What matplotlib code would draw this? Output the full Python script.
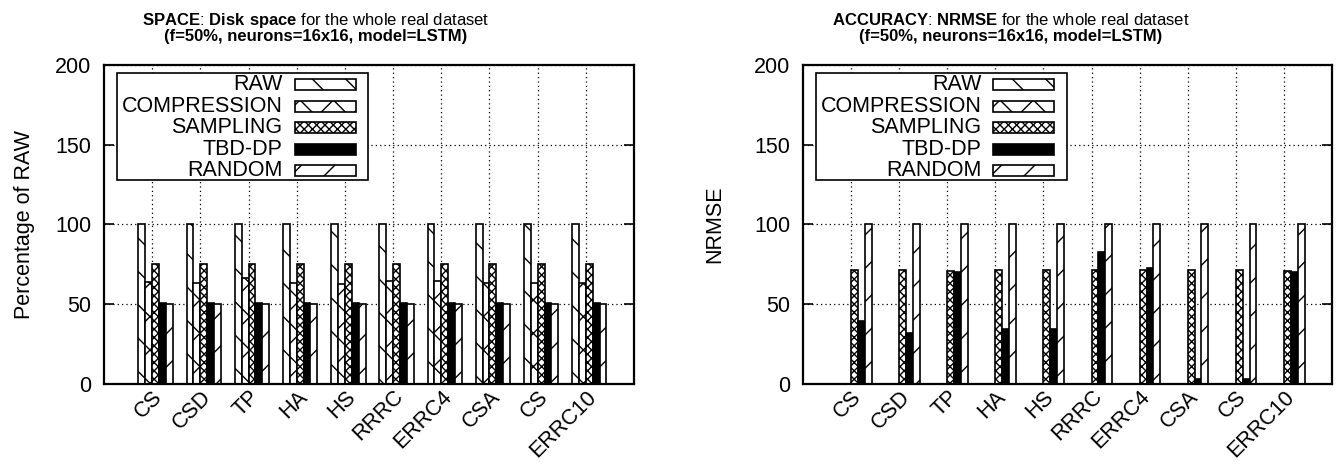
import numpy as np
import matplotlib
matplotlib.use('Agg')
from matplotlib import pyplot as plt
from matplotlib.patches import Rectangle
import matplotlib.transforms as mtransforms

plt.rcParams['font.family'] = ['Liberation Sans', 'DejaVu Sans']
plt.rcParams['hatch.linewidth'] = 1.0
plt.rcParams['mathtext.fontset'] = 'custom'
plt.rcParams['mathtext.rm'] = 'Liberation Sans'
plt.rcParams['mathtext.bf'] = 'Liberation Sans:bold'

categories = ['CS', 'CSD', 'TP', 'HA', 'HS', 'RRRC', 'ERRC4', 'CSA', 'CS', 'ERRC10']
methods = ['RAW', 'COMPRESSION', 'SAMPLING', 'TBD-DP', 'RANDOM']
hatches = ['\\', 'x', 'xxxx', None, '/']

# SPACE: percentage of RAW
space_raw = [100, 100, 100, 100, 100, 100, 100, 100, 100, 100]
space_compression = [63.6, 63.0, 66.1, 63.0, 62.6, 64.1, 64.1, 63.0, 63.2, 63.2]
space_sampling = [75, 75, 75, 75, 75, 75, 75, 75, 75, 75]
space_tbd = [50.8, 50.8, 50.8, 50.8, 50.8, 50.8, 50.8, 50.8, 50.8, 50.8]
space_random = [50, 50, 50, 50, 50, 50, 50, 50, 50, 50]

# ACCURACY: NRMSE
nrmse_raw = [0, 0, 0, 0, 0, 0, 0, 0, 0, 0]
nrmse_compression = [0, 0, 0, 0, 0, 0, 0, 0, 0, 0]
nrmse_sampling = [71, 71, 70.5, 71, 71, 71, 71, 71, 71, 70.6]
nrmse_tbd = [39, 32, 70, 34.3, 34, 82.3, 72.5, 3, 3, 70.2]
nrmse_random = [100, 100, 100, 100, 100, 100, 100, 100, 100, 100]

space = [space_raw, space_compression, space_sampling, space_tbd, space_random]
nrmse = [nrmse_raw, nrmse_compression, nrmse_sampling, nrmse_tbd, nrmse_random]

W, H = 1341, 472
fig = plt.figure(figsize=(W / 100, H / 100), dpi=100)

TICK_FS = 15.5
TITLE_FS = 12


def draw_panel(ax, series, ylabel):
    x = np.arange(1, len(categories) + 1)
    bw = 1 / 7
    for j, vals in enumerate(series):
        if hatches[j] is None:
            ax.bar(x + (j - 1.5) * bw, vals, width=bw, color='black',
                   edgecolor='black', linewidth=1.2, zorder=2)
        else:
            ax.bar(x + (j - 1.5) * bw, vals, width=bw, color='white',
                   edgecolor='black', hatch=hatches[j], linewidth=1.2, zorder=2)
    ax.set_xlim(0, len(categories) + 1)
    ax.set_ylim(0, 200)
    ax.set_yticks([0, 50, 100, 150, 200])
    ax.set_xticks(x)
    ax.set_xticklabels(categories, rotation=45, ha='right', va='top',
                       rotation_mode='anchor', fontsize=TICK_FS)
    off = mtransforms.ScaledTranslation(9 / 72, -5 / 72, fig.dpi_scale_trans)
    for lab in ax.get_xticklabels():
        lab.set_transform(lab.get_transform() + off)
    ax.tick_params(axis='y', labelsize=TICK_FS, direction='in', length=7,
                   width=1.2, right=True, pad=9)
    ax.tick_params(axis='x', direction='in', length=0, top=False, pad=2)
    ax.grid(True, linestyle=(0, (1, 2.5)), color='black', linewidth=0.9)
    ax.set_axisbelow(True)
    for s in ax.spines.values():
        s.set_linewidth(1.6)
    ax.set_ylabel(ylabel, fontsize=TICK_FS)

    # legend box drawn gnuplot-style: right-aligned labels, samples on the right
    ax.add_patch(Rectangle((0.024, 0.639), 0.475, 0.335, transform=ax.transAxes,
                           facecolor='white', edgecolor='black', linewidth=1.2, zorder=5))
    rows = [0.940, 0.871, 0.803, 0.736, 0.668]
    for j, name in enumerate(methods):
        ax.text(0.337, rows[j], name, transform=ax.transAxes, ha='right', va='center',
                fontsize=TICK_FS, zorder=6)
        if hatches[j] is None:
            ax.add_patch(Rectangle((0.36, rows[j] - 0.0172), 0.115, 0.0345,
                                   transform=ax.transAxes, facecolor='black',
                                   edgecolor='black', linewidth=1.2, zorder=6))
        else:
            ax.add_patch(Rectangle((0.36, rows[j] - 0.0172), 0.115, 0.0345,
                                   transform=ax.transAxes, facecolor='white',
                                   edgecolor='black', hatch=hatches[j],
                                   linewidth=1.2, zorder=6))


ax1 = fig.add_axes([104 / W, (H - 383.5) / H, 530 / W, 318.5 / H])
ax2 = fig.add_axes([803 / W, (H - 383.5) / H, 529 / W, 318.5 / H])
draw_panel(ax1, space, 'Percentage of RAW')
draw_panel(ax2, nrmse, 'NRMSE')
ax1.yaxis.set_label_coords(-(104 - 35) / 530, 0.5)
ax2.yaxis.set_label_coords(-(803 - 725) / 529, 0.5)

fig.text(316 / W, 1 - 20 / H, r'$\bf{SPACE}$: $\bf{Disk\ space}$ for the whole real dataset',
         ha='center', va='center', fontsize=TITLE_FS)
fig.text(316 / W, 1 - 37 / H, '(f=50%, neurons=16x16, model=LSTM)',
         ha='center', va='center', fontsize=TITLE_FS, fontweight='bold')
fig.text(1011 / W, 1 - 20 / H, r'$\bf{ACCURACY}$: $\bf{NRMSE}$ for the whole real dataset',
         ha='center', va='center', fontsize=TITLE_FS)
fig.text(1011 / W, 1 - 37 / H, '(f=50%, neurons=16x16, model=LSTM)',
         ha='center', va='center', fontsize=TITLE_FS, fontweight='bold')

fig.savefig('out.png', dpi=100)
